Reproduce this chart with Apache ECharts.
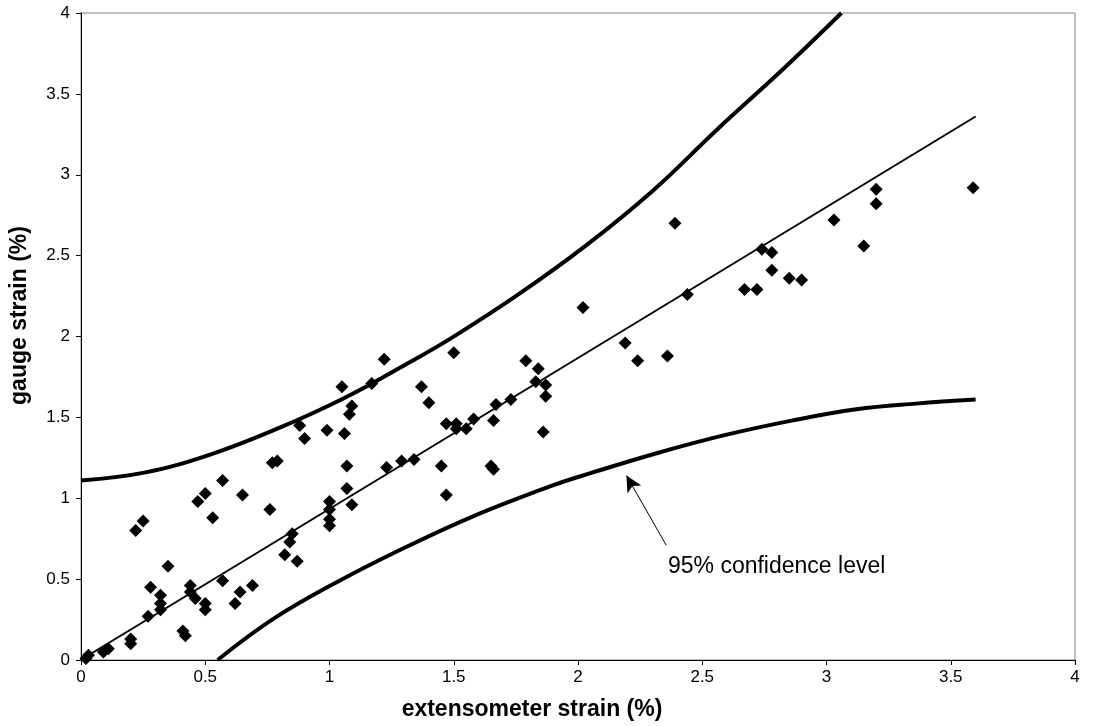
<!DOCTYPE html>
<html>
<head>
<meta charset="utf-8">
<script src="https://cdn.jsdelivr.net/npm/echarts@6/dist/echarts.min.js"></script>
<style>
  html, body { margin: 0; padding: 0; background: #fff; }
  #chart { width: 1099px; height: 726px; }
</style>
</head>
<body>
<div id="chart"></div>
<script>
// measured strain pairs (%)
const extStrain = [0.02, 0.03, 0.09, 0.11, 0.2, 0.2, 0.22, 0.25, 0.27, 0.28, 0.32, 0.32, 0.32, 0.35, 0.41, 0.42,
    0.44, 0.44, 0.46, 0.47, 0.5, 0.5, 0.5, 0.53, 0.57, 0.57, 0.62, 0.64, 0.65, 0.69, 0.76, 0.77, 0.79, 0.82,
    0.84, 0.85, 0.87, 0.88, 0.9, 0.99, 1.05, 1.06, 1.09, 1.08, 1.17, 1.22, 1.07, 1.07, 1.0, 1.0, 1.0, 1.0,
    1.09, 1.23, 1.29, 1.34, 1.37, 1.4, 1.45, 1.47, 1.5, 1.47, 1.51, 1.51, 1.55, 1.58, 1.65, 1.66, 1.66, 1.67,
    1.73, 1.79, 1.84, 1.83, 1.87, 1.87, 1.86, 2.39, 2.02, 2.44, 2.19, 2.24, 2.36, 2.67, 2.72, 2.74, 2.78,
    2.78, 2.85, 2.9, 3.03, 3.15, 3.2, 3.2, 3.59];
const gaugeStrain = [0.01, 0.03, 0.05, 0.07, 0.13, 0.1, 0.8, 0.86, 0.27, 0.45, 0.4, 0.35, 0.31, 0.58, 0.18, 0.15,
    0.46, 0.42, 0.38, 0.98, 1.03, 0.35, 0.31, 0.88, 1.11, 0.49, 0.35, 0.42, 1.02, 0.46, 0.93, 1.22, 1.23, 0.65,
    0.73, 0.78, 0.61, 1.45, 1.37, 1.42, 1.69, 1.4, 1.57, 1.52, 1.71, 1.86, 1.2, 1.06, 0.98, 0.93, 0.87, 0.83,
    0.96, 1.19, 1.23, 1.24, 1.69, 1.59, 1.2, 1.02, 1.9, 1.46, 1.46, 1.43, 1.43, 1.49, 1.2, 1.18, 1.48, 1.58,
    1.61, 1.85, 1.8, 1.72, 1.7, 1.63, 1.41, 2.7, 2.18, 2.26, 1.96, 1.85, 1.88, 2.29, 2.29, 2.54, 2.52,
    2.41, 2.36, 2.35, 2.72, 2.56, 2.91, 2.82, 2.92];

// regression line
const fitX = [0.02, 3.6];
const fitY = [0.02, 3.36];

// 95% confidence bounds
const upperX = [0, 0.26, 0.52, 0.79, 1.06, 1.31, 1.49, 1.76, 2.03, 2.3, 2.56, 2.83, 3.06];
const upperY = [1.11, 1.16, 1.27, 1.43, 1.62, 1.83, 1.99, 2.26, 2.56, 2.9, 3.28, 3.66, 4.0];
const lowerX = [0.55, 0.78, 1.04, 1.31, 1.58, 1.89, 2.05, 2.32, 2.59, 2.86, 3.12, 3.36, 3.6];
const lowerY = [0.0, 0.26, 0.49, 0.7, 0.89, 1.075, 1.155, 1.28, 1.39, 1.48, 1.55, 1.585, 1.61];

const zip = (a, b) => a.map((v, i) => [v, b[i]]);

const font = '"Liberation Sans", Arial, sans-serif';

var chartDom = document.getElementById('chart');
var myChart = echarts.init(chartDom);
const option = {
    animation: false,
    backgroundColor: '#fff',
    grid: {
        left: 78,
        right: 24,
        top: 13,
        bottom: 60,
        show: true,
        borderColor: '#808080',
        borderWidth: 1
    },
    xAxis: {
        type: 'value',
        min: 0,
        max: 4,
        interval: 0.5,
        name: 'extensometer strain (%)',
        nameLocation: 'middle',
        nameGap: 38,
        nameTextStyle: {
            fontFamily: font, fontSize: 23, fontWeight: 'bold', color: '#000',
            padding: [0, 92, 0, 0]
        },
        axisLine: { lineStyle: { color: '#000', width: 1 } },
        axisTick: { show: true, inside: false, length: 5, lineStyle: { color: '#000' } },
        axisLabel: { fontFamily: font, fontSize: 17, color: '#000', margin: 9 },
        splitLine: { show: false }
    },
    yAxis: {
        type: 'value',
        min: 0,
        max: 4,
        interval: 0.5,
        name: 'gauge strain (%)',
        nameLocation: 'middle',
        nameGap: 50,
        nameTextStyle: {
            fontFamily: font, fontSize: 23, fontWeight: 'bold', color: '#000',
            padding: [0, 0, 0, 42]
        },
        axisLine: { lineStyle: { color: '#000', width: 1 } },
        axisTick: { show: true, inside: false, length: 5, lineStyle: { color: '#000' } },
        axisLabel: { fontFamily: font, fontSize: 17, color: '#000', margin: 11 },
        splitLine: { show: false }
    },
    series: [
        {
            name: 'upper',
            type: 'line',
            data: zip(upperX, upperY),
            smooth: 0.4,
            showSymbol: false,
            clip: true,
            lineStyle: { color: '#000', width: 4 }
        },
        {
            name: 'lower',
            type: 'line',
            data: zip(lowerX, lowerY),
            smooth: 0.4,
            showSymbol: false,
            clip: true,
            lineStyle: { color: '#000', width: 4 },
            markLine: {
                silent: true,
                symbol: ['none', 'arrow'],
                symbolSize: [12, 16],
                lineStyle: { color: '#000', width: 1, type: 'solid' },
                label: { show: false },
                data: [[{ coord: [2.355, 0.71] }, { coord: [2.195, 1.14] }]]
            },
            markPoint: {
                silent: true,
                symbol: 'circle',
                symbolSize: 0,
                label: {
                    show: true,
                    position: 'right',
                    distance: 0,
                    formatter: '95% confidence level',
                    fontFamily: font,
                    fontSize: 23,
                    color: '#000'
                },
                data: [{ coord: [2.362, 0.58] }]
            }
        },
        {
            name: 'fit',
            type: 'line',
            data: zip(fitX, fitY),
            showSymbol: false,
            lineStyle: { color: '#000', width: 2 }
        },
        {
            name: 'data',
            type: 'scatter',
            data: zip(extStrain, gaugeStrain),
            symbol: 'diamond',
            symbolSize: 13,
            itemStyle: { color: '#000', opacity: 1 },
            z: 5
        }
    ]
};
myChart.setOption(option);
</script>
</body>
</html>
